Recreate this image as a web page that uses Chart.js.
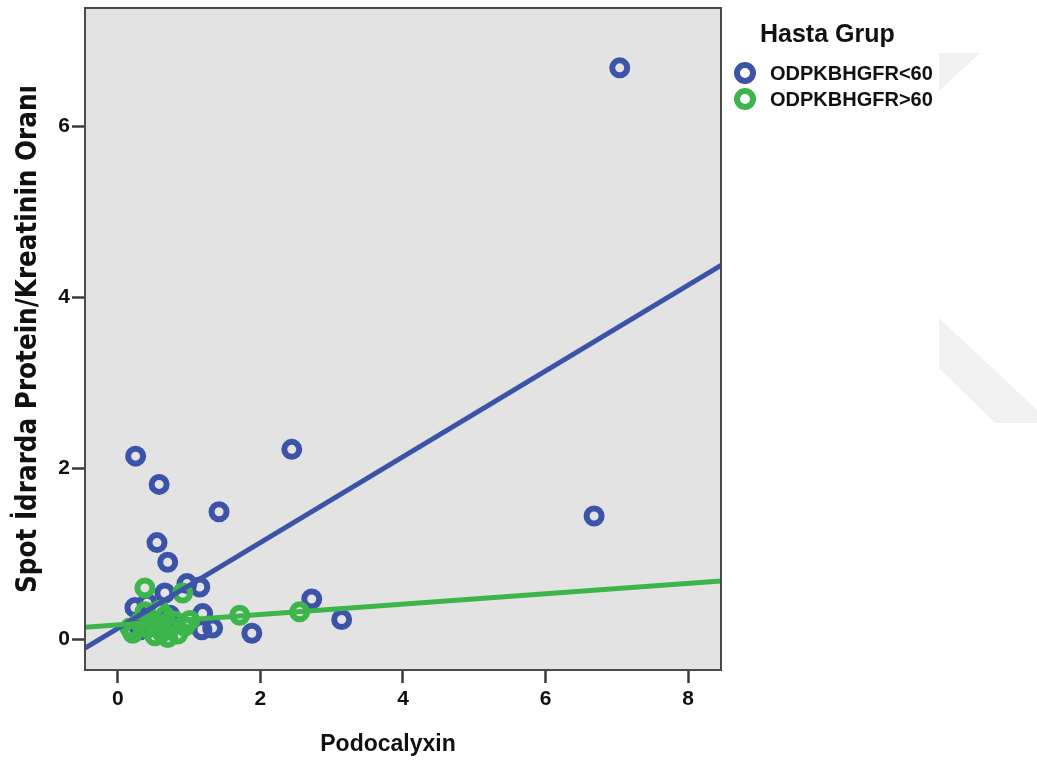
<!DOCTYPE html>
<html>
<head>
<meta charset="utf-8">
<script src="https://cdn.jsdelivr.net/npm/chart.js@4/dist/chart.umd.min.js"></script>
<style>
  html, body { margin: 0; padding: 0; background: #ffffff; }
  #wrap { position: relative; width: 1037px; height: 768px; }
  #c { position: absolute; left: 0; top: 0; }
  .lg-title { position: absolute; left: 760px; top: 19px; font: bold 25px "Liberation Sans", Arial, sans-serif; color: #111; white-space: nowrap; }
  .lg-item { position: absolute; left: 734px; height: 24px; display: flex; align-items: center; font: bold 20px "Liberation Sans", Arial, sans-serif; color: #111; white-space: nowrap; }
  .lg-mark { box-sizing: border-box; width: 22px; height: 22px; border-radius: 50%; border: 6px solid; margin-right: 14px; }
</style>
</head>
<body>
<div id="wrap">
  <canvas id="c" width="1037" height="768"></canvas>
  <div class="lg-title" id="lgTitle"></div>
  <div class="lg-item" id="lg0" style="top:61px"><div class="lg-mark" id="lgm0"></div><span id="lgt0"></span></div>
  <div class="lg-item" id="lg1" style="top:87px"><div class="lg-mark" id="lgm1"></div><span id="lgt1"></span></div>
</div>
<script>
// ---- Data ----
const legendTitle = "Hasta Grup";
const seriesNames = ["ODPKBHGFR<60", "ODPKBHGFR>60"];
const xTitle = "Podocalyxin";
const yTitle = "Spot İdrarda Protein/Kreatinin Oranı";
const xTicks = [0, 2, 4, 6, 8];
const yTicks = [0, 2, 4, 6];
const xRange = [-0.46, 8.46];
const yRange = [-0.36, 7.38];

// Group ODPKBHGFR<60 (blue)
const blueX = [7.04, 6.68, 2.44, 0.25, 0.58, 1.42, 0.55, 0.70, 0.97, 1.15, 0.66, 0.41, 0.24, 2.72, 3.14, 1.88, 1.33, 1.18, 1.19, 0.45, 0.73, 0.31];
const blueY = [6.68, 1.44, 2.22, 2.14, 1.81, 1.49, 1.13, 0.90, 0.65, 0.61, 0.54, 0.42, 0.37, 0.47, 0.23, 0.07, 0.13, 0.11, 0.30, 0.16, 0.28, 0.11];

// Group ODPKBHGFR>60 (green)
const greenX = [0.21, 0.38, 0.91, 1.71, 2.55, 0.31, 0.42, 0.48, 0.56, 0.62, 0.66, 0.73, 0.80, 0.84, 0.94, 1.01, 0.52, 0.70, 0.38, 0.59, 0.17];
const greenY = [0.07, 0.60, 0.54, 0.28, 0.32, 0.20, 0.13, 0.22, 0.16, 0.08, 0.27, 0.13, 0.21, 0.06, 0.15, 0.22, 0.04, 0.02, 0.32, 0.34, 0.13];

// Fit lines (endpoints)
const blueFitX = [-0.46, 8.46];
const blueFitY = [-0.105, 4.37];
const greenFitX = [-0.46, 8.46];
const greenFitY = [0.14, 0.68];

const BLUE = "#3c54a8";
const GREEN = "#3cb54a";

const pts = (xs, ys) => xs.map((x, i) => ({ x: x, y: ys[i] }));

document.getElementById("lgTitle").textContent = legendTitle;
document.getElementById("lgt0").textContent = seriesNames[0];
document.getElementById("lgt1").textContent = seriesNames[1];
document.getElementById("lgm0").style.borderColor = BLUE;
document.getElementById("lgm1").style.borderColor = GREEN;

// size the y-axis title so it spans the same length as in the reference
const yTitleFamily = "'DejaVu Sans Condensed', 'DejaVu Sans', sans-serif";
const mctx = document.createElement("canvas").getContext("2d");
mctx.font = "bold 28px " + yTitleFamily;
const yTitleSize = Math.max(18, Math.min(34, 28 * 508 / mctx.measureText(yTitle).width));

const frame = {
  id: "frame",
  beforeDraw(chart) {
    const { ctx, chartArea: a } = chart;
    ctx.save();
    // faint watermark shapes at the right
    ctx.fillStyle = "#f1f1f1";
    ctx.beginPath();
    ctx.moveTo(939, 53); ctx.lineTo(980, 53); ctx.lineTo(939, 91); ctx.closePath(); ctx.fill();
    ctx.beginPath();
    ctx.moveTo(939, 318); ctx.lineTo(1037, 410); ctx.lineTo(1037, 423); ctx.lineTo(995, 423); ctx.lineTo(939, 368); ctx.closePath(); ctx.fill();
    ctx.fillStyle = "#e3e3e3";
    ctx.fillRect(a.left, a.top, a.right - a.left, a.bottom - a.top);
    ctx.restore();
  },
  afterDraw(chart) {
    const { ctx, chartArea: a } = chart;
    ctx.save();
    ctx.strokeStyle = "#4a4a4a";
    ctx.lineWidth = 2;
    ctx.strokeRect(a.left, a.top, a.right - a.left, a.bottom - a.top);
    // x-axis title
    ctx.fillStyle = "#111";
    ctx.font = "bold 23px 'Liberation Sans', Arial, sans-serif";
    ctx.textAlign = "center";
    ctx.textBaseline = "middle";
    ctx.fillText(xTitle, 388, 745);
    ctx.restore();
  }
};

const tickFont = { family: "'Liberation Sans Narrow', 'Liberation Sans', Arial, sans-serif", size: 21, weight: "bold" };

new Chart(document.getElementById("c"), {
  type: "scatter",
  data: {
    datasets: [
      { type: "line", label: "fitGreen", data: pts(greenFitX, greenFitY), borderColor: GREEN, borderWidth: 5, pointRadius: 0, fill: false, order: 0 },
      { type: "line", label: "fitBlue", data: pts(blueFitX, blueFitY), borderColor: BLUE, borderWidth: 5, pointRadius: 0, fill: false, order: 1 },
      { label: seriesNames[1], data: pts(greenX, greenY), borderColor: GREEN, backgroundColor: "rgba(0,0,0,0)", pointRadius: 7.5, pointBorderWidth: 6, order: 2 },
      { label: seriesNames[0], data: pts(blueX, blueY), borderColor: BLUE, backgroundColor: "rgba(0,0,0,0)", pointRadius: 7.5, pointBorderWidth: 6, order: 3 }
    ]
  },
  options: {
    responsive: false,
    animation: false,
    layout: { autoPadding: false, padding: { top: 8, right: 316, left: 0, bottom: 0 } },
    plugins: { legend: { display: false }, tooltip: { enabled: false } },
    scales: {
      x: {
        type: "linear", min: xRange[0], max: xRange[1],
        afterBuildTicks: (s) => { s.ticks = xTicks.map(v => ({ value: v })); },
        afterFit: (s) => { s.height = 98; s.paddingLeft = 0; s.paddingRight = 0; },
        grid: { drawOnChartArea: false, drawTicks: true, tickLength: 13, tickWidth: 2.5, tickColor: "#3a3a3a" },
        border: { display: false },
        ticks: { color: "#111", font: tickFont, padding: 4, maxRotation: 0 },
        title: { display: false }
      },
      y: {
        type: "linear", min: yRange[0], max: yRange[1],
        afterBuildTicks: (s) => { s.ticks = yTicks.map(v => ({ value: v })); },
        afterFit: (s) => { s.width = 85; s.paddingTop = 0; s.paddingBottom = 0; },
        grid: { drawOnChartArea: false, drawTicks: true, tickLength: 13, tickWidth: 2.5, tickColor: "#3a3a3a" },
        border: { display: false },
        ticks: { color: "#111", font: tickFont, padding: 2 },
        title: { display: true, text: yTitle, color: "#111", font: { family: yTitleFamily, size: yTitleSize, weight: "bold", lineHeight: 1.0 }, padding: { top: 15, bottom: 0 } }
      }
    }
  },
  plugins: [frame]
});
</script>
</body>
</html>
